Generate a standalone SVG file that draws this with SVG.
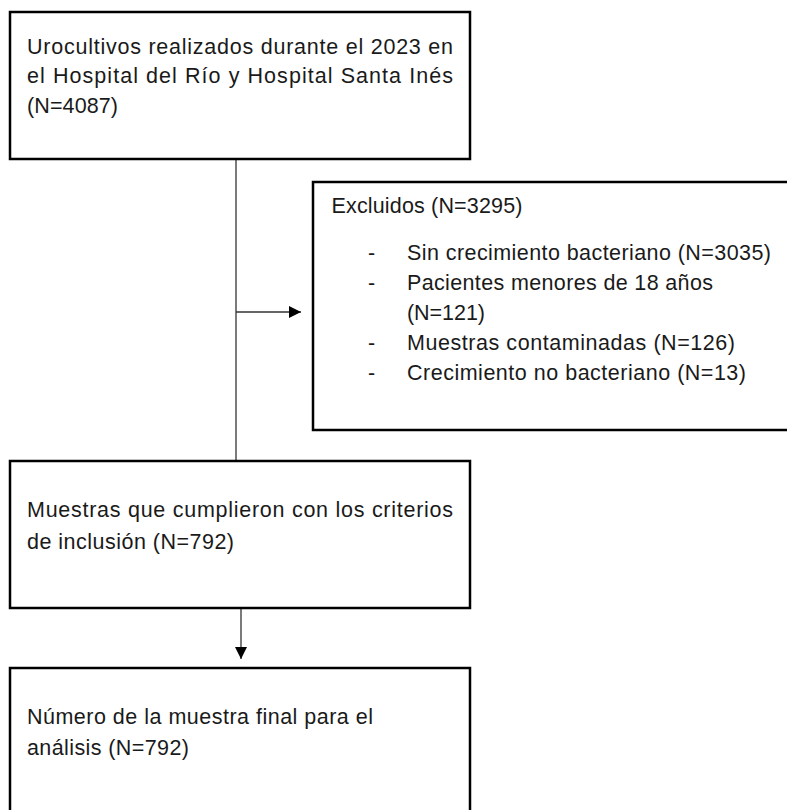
<svg xmlns="http://www.w3.org/2000/svg" width="787" height="810" viewBox="0 0 787 810">
<defs>
<style>
.box{fill:#fff;stroke:#000;stroke-width:2.5}
.t{font-family:"Liberation Sans",Arial,sans-serif;font-size:21.5px;fill:#1a1a1a}
.c{stroke:#333;stroke-width:1.3;fill:none}
</style>
<marker id="ah" viewBox="0 0 12 12" refX="12" refY="6" markerWidth="12" markerHeight="12" markerUnits="userSpaceOnUse" orient="auto">
<path d="M0,0 L12,6 L0,12 Z" fill="#000"/>
</marker>
</defs>
<rect width="787" height="810" fill="#fff"/>
<g id="connectors">
<line class="c" x1="236" y1="159" x2="236" y2="461"/>
<line class="c" x1="236" y1="312" x2="301" y2="312" marker-end="url(#ah)"/>
<line class="c" x1="241" y1="608" x2="241" y2="659" marker-end="url(#ah)"/>
</g>
<g id="node-urocultivos">
<rect class="box" x="10" y="12" width="460" height="147"/>
<text class="t" x="27" y="53.5" textLength="426" lengthAdjust="spacing">Urocultivos realizados durante el 2023 en</text>
<text class="t" x="27" y="83" textLength="426" lengthAdjust="spacing">el Hospital del Río y Hospital Santa Inés</text>
<text class="t" x="27" y="112.5" textLength="91" lengthAdjust="spacing">(N=4087)</text>
</g>
<g id="node-excluidos">
<rect class="box" x="313" y="182" width="480" height="248"/>
<text class="t" x="331.5" y="213" textLength="191" lengthAdjust="spacing">Excluidos (N=3295)</text>
<text class="t" x="368" y="260">-</text>
<text class="t" x="407" y="260" textLength="364" lengthAdjust="spacing">Sin crecimiento bacteriano (N=3035)</text>
<text class="t" x="368" y="290">-</text>
<text class="t" x="407" y="290" textLength="306" lengthAdjust="spacing">Pacientes menores de 18 años</text>
<text class="t" x="407" y="320" textLength="78" lengthAdjust="spacing">(N=121)</text>
<text class="t" x="368" y="350">-</text>
<text class="t" x="407" y="350" textLength="328" lengthAdjust="spacing">Muestras contaminadas (N=126)</text>
<text class="t" x="368" y="380">-</text>
<text class="t" x="407" y="380" textLength="339" lengthAdjust="spacing">Crecimiento no bacteriano (N=13)</text>
</g>
<g id="node-incluidas">
<rect class="box" x="10" y="461" width="460" height="147"/>
<text class="t" x="27" y="517" textLength="426" lengthAdjust="spacing">Muestras que cumplieron con los criterios</text>
<text class="t" x="27" y="548.5" textLength="207" lengthAdjust="spacing">de inclusión (N=792)</text>
</g>
<g id="node-final">
<rect class="box" x="10" y="668" width="460" height="160"/>
<text class="t" x="27" y="724" textLength="346" lengthAdjust="spacing">Número de la muestra final para el</text>
<text class="t" x="27" y="755" textLength="162" lengthAdjust="spacing">análisis (N=792)</text>
</g>
</svg>
